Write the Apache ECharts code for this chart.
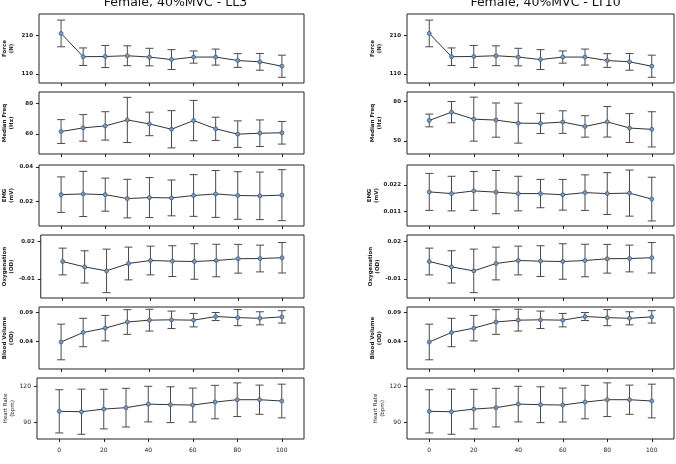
<!DOCTYPE html>
<html>
<head>
    <meta charset="utf-8">
    <title>ECharts</title>
    <script src="https://cdn.jsdelivr.net/npm/echarts@6/dist/echarts.min.js"></script>
</head>
<body style="margin:0">
    <div id="main" style="width: 676px;height:464px;"></div>
    <script type="text/javascript">
        // 数据
        var xs = [0, 10, 20, 30, 40, 50, 60, 70, 80, 90, 100];
        var xTicks = [0, 20, 40, 60, 80, 100];

        var forceMean = [216, 155, 155.5, 157.5, 154, 147.5, 154, 154, 145, 141.5, 130];
        var forceErr = [35, 23, 29, 26, 23, 26, 16, 21, 18, 22, 29];
        var forceTicks = [110, 210];

        var freqLL3Mean = [61.5, 63.9, 65.2, 69.1, 66.5, 63, 68.7, 63.3, 59.8, 60.4, 60.7];
        var freqLL3Err = [7.8, 8.7, 9.3, 14.8, 7.7, 12.2, 13.2, 7.6, 8.7, 8.7, 7.4];
        var freqLL3Ticks = [60, 80];

        var freqLT10Mean = [65.5, 71.8, 66.5, 65.8, 63.5, 63.3, 64.3, 61, 64.5, 59.8, 58.8];
        var freqLT10Err = [4.8, 8, 16.6, 12.9, 15.1, 7.6, 8.5, 8.1, 11.5, 10.9, 13.3];
        var freqLT10Ticks = [50, 80];

        var emgLL3Mean = [0.0240, 0.0244, 0.0240, 0.0217, 0.0223, 0.0221, 0.0235, 0.0244, 0.0235, 0.0233, 0.0237];
        var emgLL3Err = [0.0103, 0.0131, 0.0096, 0.0112, 0.0116, 0.0104, 0.0121, 0.0136, 0.0138, 0.0138, 0.0148];
        var emgLL3Ticks = [0.02, 0.04];

        var emgLT10Mean = [0.0191, 0.0184, 0.0195, 0.0190, 0.0184, 0.0184, 0.0179, 0.0188, 0.0184, 0.0186, 0.0161];
        var emgLT10Err = [0.0077, 0.0072, 0.0081, 0.0090, 0.0072, 0.0059, 0.0064, 0.0074, 0.0087, 0.0096, 0.0091];
        var emgLT10Ticks = [0.011, 0.022];

        var oxyMean = [0.0039, -0.0004, -0.0036, 0.0023, 0.0047, 0.0042, 0.0039, 0.0047, 0.0061, 0.0063, 0.0069];
        var oxyErr = [0.0107, 0.0129, 0.0174, 0.0131, 0.0115, 0.0123, 0.0142, 0.0130, 0.0115, 0.0107, 0.0122];
        var oxyTicks = [-0.01, 0.02];

        var bvMean = [0.0387, 0.0552, 0.0628, 0.0735, 0.0767, 0.0773, 0.0767, 0.0830, 0.0811, 0.0799, 0.0824];
        var bvErr = [0.031, 0.0247, 0.0222, 0.0215, 0.019, 0.0152, 0.0117, 0.007, 0.014, 0.0114, 0.0108];
        var bvTicks = [0.04, 0.09];

        var hrMean = [99, 98.7, 100.9, 102.1, 105.1, 104.6, 104.3, 106.8, 108.8, 108.8, 107.7];
        var hrErr = [18.2, 19, 16.7, 16.3, 15, 15.1, 14.3, 14.1, 14.2, 12.3, 14.2];
        var hrTicks = [90, 120];

        var titles = ['Female, 40%MVC - LL3', 'Female, 40%MVC - LT10'];

        // 每行一个指标，左列 LL3，右列 LT10
        var rows = [
            { name: 'Force\n(N)', top: 14, height: 69,
              cols: [[forceMean, forceErr, forceTicks, 86, 267], [forceMean, forceErr, forceTicks, 86, 267]] },
            { name: 'Median Freq\n(Hz)', top: 92, height: 62,
              cols: [[freqLL3Mean, freqLL3Err, freqLL3Ticks, 46.8, 87.4], [freqLT10Mean, freqLT10Err, freqLT10Ticks, 40.2, 87]] },
            { name: 'EMG\n(mV)', top: 165, height: 61,
              cols: [[emgLL3Mean, emgLL3Err, emgLL3Ticks, 0.0058, 0.0412], [emgLT10Mean, emgLT10Err, emgLT10Ticks, 0.0049, 0.0303]] },
            { name: 'Oxygenation\n(OD)', top: 235, height: 63,
              cols: [[oxyMean, oxyErr, oxyTicks, -0.0253, 0.0251], [oxyMean, oxyErr, oxyTicks, -0.0253, 0.0251]] },
            { name: 'Blood Volume\n(OD)', top: 307, height: 62,
              cols: [[bvMean, bvErr, bvTicks, -0.0083, 0.0996], [bvMean, bvErr, bvTicks, -0.0083, 0.0996]] },
            { name: 'Heart Rate\n(bpm)', top: 378, height: 61,
              cols: [[hrMean, hrErr, hrTicks, 75.7, 127.1], [hrMean, hrErr, hrTicks, 75.7, 127.1]] }
        ];

        var colLeft = [37, 407];
        var plotWidth = 267;
        var font = 'DejaVu Sans';

        var grids = [], xAxes = [], yAxes = [], series = [];

        rows.forEach(function (row, r) {
            row.cols.forEach(function (c, k) {
                var i = grids.length;
                var last = r === rows.length - 1;
                grids.push({
                    left: colLeft[k], top: row.top, width: plotWidth, height: row.height,
                    show: true, borderColor: '#222', borderWidth: 1, backgroundColor: 'transparent'
                });
                xAxes.push({
                    type: 'value', gridIndex: i, min: -10, max: 110, position: 'bottom',
                    splitLine: { show: false },
                    axisLine: { show: false, onZero: false },
                    axisTick: { show: true, length: 3, customValues: xTicks, lineStyle: { color: '#222' } },
                    axisLabel: { show: last, customValues: xTicks, fontSize: 6, fontFamily: font, color: '#222', margin: 8 }
                });
                yAxes.push({
                    type: 'value', gridIndex: i, min: c[3], max: c[4], position: 'left',
                    splitLine: { show: false },
                    axisLine: { show: false, onZero: false },
                    axisTick: { show: true, length: 3, customValues: c[2], lineStyle: { color: '#222' } },
                    axisLabel: { customValues: c[2], fontSize: last ? 6 : 5.5, fontWeight: last ? 'normal' : 'bold',
                                 fontFamily: font, color: '#222', margin: 6 },
                    name: row.name, nameLocation: 'middle', nameRotate: 90,
                    nameGap: last ? 20 : 24,
                    nameTextStyle: { fontSize: 5.5, fontWeight: last ? 'normal' : 'bold', lineHeight: 7,
                                     fontFamily: font, color: '#222' }
                });
                var mean = c[0], err = c[1];
                series.push({
                    type: 'custom', xAxisIndex: i, yAxisIndex: i, z: 1,
                    data: xs.map(function (x, j) { return [x, mean[j], err[j]]; }),
                    renderItem: function (params, api) {
                        var x = api.value(0), y = api.value(1), e = api.value(2);
                        var hi = api.coord([x, y + e]);
                        var lo = api.coord([x, y - e]);
                        var st = { stroke: '#4a4a4a', lineWidth: 1 };
                        return {
                            type: 'group',
                            children: [
                                { type: 'line', shape: { x1: hi[0], y1: hi[1], x2: lo[0], y2: lo[1] }, style: st },
                                { type: 'line', shape: { x1: hi[0] - 4, y1: hi[1], x2: hi[0] + 4, y2: hi[1] }, style: st },
                                { type: 'line', shape: { x1: lo[0] - 4, y1: lo[1], x2: lo[0] + 4, y2: lo[1] }, style: st }
                            ]
                        };
                    }
                });
                series.push({
                    type: 'line', xAxisIndex: i, yAxisIndex: i, z: 3,
                    data: xs.map(function (x, j) { return [x, mean[j]]; }),
                    symbol: 'circle', symbolSize: 4, showSymbol: true,
                    lineStyle: { color: '#333', width: 1 },
                    itemStyle: { color: '#7b9cc0', borderColor: '#34506b', borderWidth: 0.7 },
                    silent: true, animation: false
                });
            });
        });

        var myChart = echarts.init(document.getElementById('main'));
        var option = {
            animation: false,
            backgroundColor: '#fff',
            title: titles.map(function (t, k) {
                return {
                    text: t, left: colLeft[k] + plotWidth / 2, top: -9, textAlign: 'center',
                    textStyle: { fontSize: 12.5, fontWeight: 'normal', fontFamily: font, color: '#111' }
                };
            }),
            grid: grids,
            xAxis: xAxes,
            yAxis: yAxes,
            series: series
        };
        myChart.setOption(option);
    </script>
</body>
</html>
